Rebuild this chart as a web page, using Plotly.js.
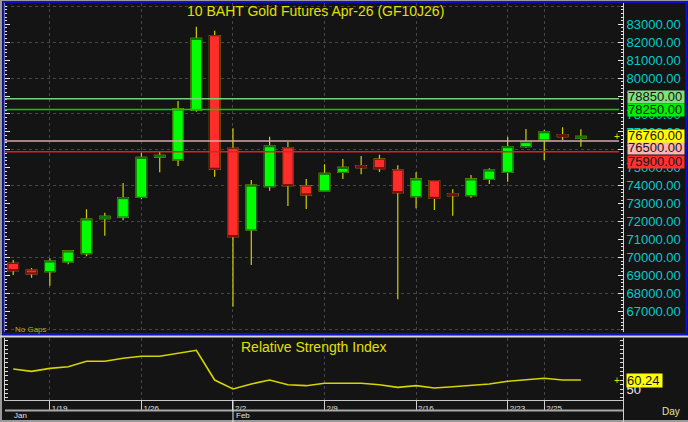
<!DOCTYPE html>
<html><head><meta charset="utf-8">
<script src="https://cdn.plot.ly/plotly-3.0.1.min.js"></script>
<style>html,body{margin:0;padding:0;background:#141414;overflow:hidden}#chart{width:688px;height:422px}</style>
</head><body><div id="chart"></div>
<script>
// ---- data ----
const dates = ['1/15','1/16','1/19','1/20','1/21','1/22','1/23','1/26','1/27','1/28','1/29','1/30',
  '2/2','2/3','2/4','2/5','2/6','2/9','2/10','2/11','2/12','2/13','2/16','2/17','2/18','2/19','2/20',
  '2/23','2/24','2/25','2/26','2/27'];
const openP  = [69680,69310,69215,69755,70220,72170,72260,73360,75600,75440,78220,82360,
  76090,71540,73950,76120,73990,73710,74750,75120,75480,74880,73390,74285,73560,73450,74360,
  74750,76180,76550,76850,76650];
const highP  = [69870,69420,69960,70370,72700,72500,74160,75850,75900,78720,82860,82640,
  77200,74320,76735,76455,74380,75200,75490,75660,75730,75140,74750,74290,73805,74600,74975,
  76735,77165,77110,77260,77150];
const lowP   = [69030,68880,68435,69630,70070,71220,72080,73250,74750,75100,78130,74510,
  67265,69590,73730,72875,72710,73700,74380,74640,74770,67680,72745,72650,72335,73340,74100,
  74230,76120,75440,76550,76180];
const closeP = [69270,69090,69810,70370,72150,72300,73340,75590,75700,78280,82215,74920,
  71165,74040,76230,74005,73490,74700,75030,75010,74950,73615,74380,73300,73450,74380,74880,
  76180,76460,77010,76740,76760];
const rsi = [72.7,70.1,73.5,75.3,81.5,81.5,84.9,87.2,87.2,90.6,94.0,60.2,
  50.0,55.7,60.2,54.9,53.8,56.5,56.5,56.5,54.9,51.9,53.8,51.1,52.6,53.8,55.7,
  58.8,60.6,62.2,60.3,60.24];
const levels = [78850, 78250, 76500, 75900];
const priceTicks = [67000,68000,69000,70000,71000,72000,73000,74000,75000,76000,77000,78000,79000,80000,81000,82000,83000];
const rsiTicks = [40,45,50,55,60,65,70,75,80,85,90,95,100,105];
const rsiTickLabels = ['','','50','','','','','','','','','','',''];
const weekTicks = ['1/19','1/26','2/2','2/9','2/16','2/23','2/25'];
const months = ['Jan','Feb'];
const monthStarts = ['1/15','2/2'];
const chartTitle = '10 BAHT Gold Futures Apr-26 (GF10J26)';
const rsiTitle = 'Relative Strength Index';

// ---- styles ----
const levelLineColors = ['#78d078','#00d000','#d8a8a8','#e02020'];
const levelBoxColors  = ['#80e080','#00f000','#ffb4b4','#ff3030'];
const levelShift      = [2, 0, -7.4, -10.8];
const W = 688, H = 422;
const fx = p => p / W, fy = p => 1 - p / H;
const grid = '#464646';
const yellow = '#e0e000';

const bodyHigh = openP.map((o,i)=>Math.max(o, closeP[i]));
const bodyLow  = openP.map((o,i)=>Math.min(o, closeP[i]));
const wickCol = '#d0d000';

const traces = [
  { type:'candlestick', x:dates, open:openP, high:highP, low:lowP, close:closeP,
    xaxis:'x2', yaxis:'y', hoverinfo:'skip', whiskerwidth:0,
    increasing:{line:{color:wickCol,width:1.2}, fillcolor:wickCol},
    decreasing:{line:{color:wickCol,width:1.2}, fillcolor:wickCol} },
  { type:'candlestick', x:dates, open:openP, high:bodyHigh, low:bodyLow, close:closeP,
    xaxis:'x2', yaxis:'y', hoverinfo:'skip', whiskerwidth:0,
    increasing:{line:{color:'#0a5a0a',width:1}, fillcolor:'#00ff00'},
    decreasing:{line:{color:'#5a0a0a',width:1}, fillcolor:'#ff2c2c'} },
  // carrier for the labelled price axis (invisible)
  { type:'scatter', mode:'lines', x:dates, y:closeP, xaxis:'x2', yaxis:'y3',
    line:{color:'rgba(0,0,0,0)', width:0}, hoverinfo:'skip' },
  { type:'scatter', mode:'lines', x:dates, y:rsi, xaxis:'x', yaxis:'y2',
    line:{color:'#d4d400', width:1.6}, hoverinfo:'skip' }
];

const shapes = [];
shapes.push({type:'rect', xref:'paper', yref:'paper', x0:0, x1:fx(2), y0:0, y1:1, fillcolor:'#9a9a9a', line:{width:0}, layer:'below'});
shapes.push({type:'line', xref:'paper', yref:'paper', x0:0, x1:1, y0:fy(0.5), y1:fy(0.5), line:{color:'#9a9a9a', width:1}});
shapes.push({type:'rect', xref:'paper', yref:'paper', x0:fx(3.5), x1:fx(686.5), y0:fy(334), y1:fy(2), line:{color:'#1010c8', width:2}, fillcolor:'rgba(0,0,0,0)'});
shapes.push({type:'line', xref:'paper', yref:'paper', x0:0, x1:1, y0:fy(336.5), y1:fy(336.5), line:{color:'#d4d4d4', width:2}});
shapes.push({type:'line', xref:'paper', yref:'paper', x0:fx(5), x1:fx(624), y0:fy(410.5), y1:fy(410.5), line:{color:'#a8a8a8', width:2}});
shapes.push({type:'line', xref:'paper', yref:'paper', x0:0, x1:1, y0:fy(421), y1:fy(421), line:{color:'#9a9a9a', width:2}});
shapes.push({type:'line', xref:'paper', yref:'paper', x0:fx(623.5), x1:fx(623.5), y0:0, y1:fy(400), line:{color:'#d0d0d0', width:1}});
shapes.push({type:'line', xref:'x', yref:'paper', x0:monthStarts[1], x1:monthStarts[1], y0:0, y1:fy(400), line:{color:'#e8e8e8', width:1}});
levels.forEach((v,i)=>{
  shapes.push({type:'line', xref:'x2 domain', yref:'y', x0:0, x1:0.9935, y0:v, y1:v,
    line:{color:levelLineColors[i], width:1.5}});
});

const annotations = [];
annotations.push({xref:'paper', yref:'paper', x:fx(315.5), y:fy(11), xanchor:'center', yanchor:'middle',
  text:chartTitle, showarrow:false, font:{size:14, color:yellow}});
annotations.push({xref:'paper', yref:'paper', x:fx(314), y:fy(347), xanchor:'center', yanchor:'middle',
  text:rsiTitle, showarrow:false, font:{size:14, color:yellow}});
levels.forEach((v,i)=>{
  annotations.push({xref:'paper', yref:'y', x:fx(626.5), y:v, yshift:levelShift[i], xanchor:'left', yanchor:'middle',
    text:v.toFixed(2), showarrow:false, bgcolor:levelBoxColors[i], width:56, height:11.5, borderpad:0,
    align:'left', font:{size:13, color:'#141414'}});
});
const lastClose = closeP[closeP.length-1];
annotations.push({xref:'paper', yref:'y', x:fx(626.5), y:lastClose, xanchor:'left', yanchor:'middle',
  text:lastClose.toFixed(2), showarrow:false, bgcolor:'#ffff00', width:56, height:11.5, borderpad:0,
  align:'left', font:{size:13, color:'#141414'}});
annotations.push({xref:'paper', yref:'y', x:fx(617), y:lastClose, xanchor:'center', yanchor:'middle',
  text:'+', showarrow:false, font:{size:10, color:yellow}});
const lastRsi = rsi[rsi.length-1];
annotations.push({xref:'paper', yref:'y2', x:fx(625.5), y:lastRsi, xanchor:'left', yanchor:'middle',
  text:lastRsi.toFixed(2), showarrow:false, bgcolor:'#ffff00', width:35, height:12.5, borderpad:0,
  align:'left', font:{size:13, color:'#141414'}});
annotations.push({xref:'paper', yref:'y2', x:fx(617), y:lastRsi, xanchor:'center', yanchor:'middle',
  text:'+', showarrow:false, font:{size:10, color:yellow}});
annotations.push({xref:'paper', yref:'paper', x:fx(13), y:fy(329), xanchor:'left', yanchor:'middle',
  text:'No Gaps', showarrow:false, font:{size:8, color:'#b0b020'}});
annotations.push({xref:'paper', yref:'paper', x:fx(660), y:fy(411), xanchor:'left', yanchor:'middle',
  text:'Day', showarrow:false, font:{size:10, color:'#e4e4a0'}});
months.forEach((m,i)=>{
  annotations.push({xref:'x', yref:'paper', x:monthStarts[i], y:fy(415.5), xanchor:'left', yanchor:'middle',
    xshift: i===0 ? -1 : 1, text:m, showarrow:false, font:{size:8, color:'#e0e0e0'}});
});

const layout = {
  width:W, height:H, margin:{l:0,r:0,t:0,b:0}, autosize:false,
  paper_bgcolor:'#141414', plot_bgcolor:'rgba(0,0,0,0)', showlegend:false, hovermode:false,
  font:{family:'Liberation Sans, Arial, sans-serif'},
  boxgap:0.43, boxgroupgap:0,
  xaxis:{domain:[fx(5),fx(623)], anchor:'y2', type:'category', range:[-0.45,33.3],
    tickmode:'array', tickvals:weekTicks, ticktext:weekTicks, ticks:'outside', ticklen:10,
    tickcolor:'#d0d0d0', tickwidth:1, tickfont:{size:8, color:'#e0e0e0'},
    ticklabelposition:'outside right', ticklabelstandoff:0, ticklabelshift:1,
    showline:true, linecolor:'#c8c8c8', linewidth:1,
    showgrid:true, gridcolor:grid, griddash:'dot', zeroline:false, fixedrange:true},
  xaxis2:{domain:[fx(5),fx(623)], anchor:'y', matches:'x', type:'category',
    tickmode:'array', tickvals:weekTicks, showticklabels:false, ticks:'',
    showgrid:true, gridcolor:grid, griddash:'dot', zeroline:false, showline:false,
    rangeslider:{visible:false}},
  yaxis:{domain:[fy(332), fy(3)], anchor:'x2', range:[65856,84182], dtick:2000, tick0:0,
    showgrid:true, gridcolor:grid, griddash:'dot', showticklabels:false, ticks:'', zeroline:false, side:'right'},
  yaxis3:{overlaying:'y', anchor:'x2', side:'right', range:[65856,84182], autorange:false,
    tickmode:'array', tickvals:priceTicks, ticktext:priceTicks.map(v=>v.toFixed(2)),
    tickfont:{size:13, color:'#00cccc'}, ticks:'inside', ticklen:5, tickcolor:'#e8e8e8',
    minor:{dtick:200, tick0:0, ticks:'inside', ticklen:2, tickcolor:'#e8e8e8', showgrid:false},
    mirror:'ticks', showline:true, linecolor:'#d0d0e0', showgrid:false, zeroline:false},
  yaxis2:{domain:[fy(400), fy(338)], anchor:'x', side:'right', range:[37.5,108],
    tickmode:'array', tickvals:rsiTicks, ticktext:rsiTickLabels,
    tickfont:{size:13, color:'#e8e8e8'}, ticks:'inside', ticklen:3, tickcolor:'#e0e0e0',
    mirror:'ticks', showline:true, linecolor:'#d0d0d0', showgrid:false, zeroline:false},
  shapes, annotations
};

Plotly.newPlot('chart', traces, layout, {staticPlot:true, displayModeBar:false});
</script></body></html>
